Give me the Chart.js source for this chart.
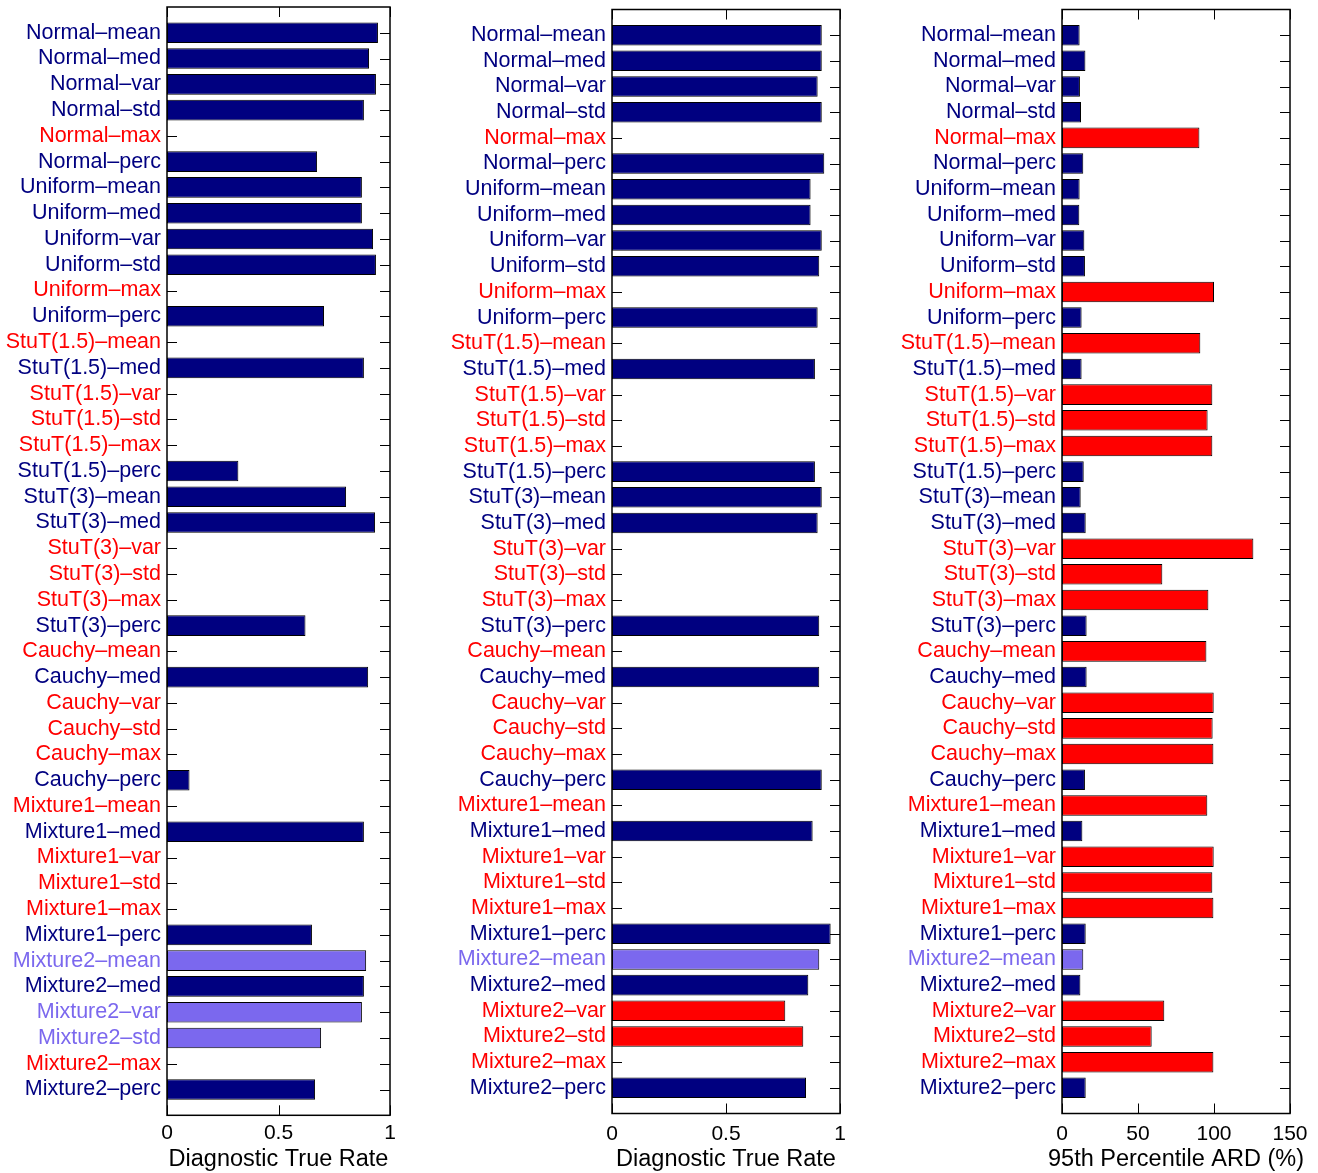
<!DOCTYPE html>
<html lang="en">
<head>
<meta charset="utf-8"/>
<title>Diagnostic True Rate / 95th Percentile ARD</title>
<script src="https://cdn.jsdelivr.net/npm/chart.js"></script>
<style>
  body { margin: 0; background: #fff; }
  #wrap { position: relative; width: 1318px; height: 1173px; }
  .panel { position: absolute; top: 0; height: 1173px; }
</style>
</head>
<body>
<div id="wrap">
  <div class="panel" style="left:0;width:400px"><canvas id="c1"></canvas></div>
  <div class="panel" style="left:440px;width:420px"><canvas id="c2"></canvas></div>
  <div class="panel" style="left:890px;width:428px"><canvas id="c3"></canvas></div>
</div>
<script>
  // row labels
  const dists = ['Normal', 'Uniform', 'StuT(1.5)', 'StuT(3)', 'Cauchy', 'Mixture1', 'Mixture2'];
  const stats = ['mean', 'med', 'var', 'std', 'max', 'perc'];
  const categories = dists.flatMap(d => stats.map(s => d + '\u2013' + s));

  // values, one per row, same order as categories
  const trueRateA = [
    0.946, 0.906, 0.937, 0.883, 0, 0.673,
    0.874, 0.874, 0.924, 0.937, 0, 0.704,
    0, 0.883, 0, 0, 0, 0.320,
    0.803, 0.933, 0, 0, 0, 0.621,
    0, 0.902, 0, 0, 0, 0.101,
    0, 0.883, 0, 0, 0, 0.650,
    0.893, 0.883, 0.874, 0.691, 0, 0.664
  ];
  const trueRateB = [
    0.920, 0.920, 0.902, 0.920, 0, 0.931,
    0.871, 0.871, 0.920, 0.909, 0, 0.902,
    0, 0.890, 0, 0, 0, 0.890,
    0.920, 0.902, 0, 0, 0, 0.909,
    0, 0.909, 0, 0, 0, 0.920,
    0, 0.880, 0, 0, 0, 0.959,
    0.909, 0.861, 0.760, 0.839, 0, 0.851
  ];
  const ard95 = [
    11.6, 15.4, 11.8, 12.5, 90.4, 14.0,
    11.6, 11.4, 14.7, 15.1, 100, 12.9,
    91.0, 12.9, 98.9, 95.8, 98.9, 14.3,
    12.3, 15.6, 125.9, 66.0, 96.3, 16.2,
    95.0, 16.2, 99.8, 99.1, 99.6, 15.1,
    95.6, 13.4, 99.8, 98.9, 99.6, 15.6,
    14.0, 12.1, 67.3, 59.0, 99.6, 15.6
  ];

  // N = navy, R = red, P = purple
  const classA = 'NNNNRN NNNNRN RNRRRN NNRRRN RNRRRN RNRRRN PNPPRN'.replace(/ /g, '');
  const classB = 'NNNNRN NNNNRN RNRRRN NNRRRN RNRRRN RNRRRN PNRRRN'.replace(/ /g, '');

  const palette = { N: '#000080', R: '#ff0000', P: '#7b68ee' };
  const FONT = '"Liberation Sans", Arial, Helvetica, sans-serif';

  // inward tick marks, box and x title (title drawn here so it is not squeezed to the axis width)
  const frame = {
    id: 'frame',
    beforeDatasetsDraw(chart) {
      const { ctx, chartArea: a, scales: { x, y } } = chart;
      ctx.save();
      ctx.strokeStyle = '#000';
      ctx.lineWidth = 1;
      ctx.beginPath();
      for (let i = 1; i < y.ticks.length - 1; i++) {
        const py = Math.round(y.getPixelForTick(i)) + 0.5;
        ctx.moveTo(a.left, py); ctx.lineTo(a.left + 10, py);
        ctx.moveTo(a.right, py); ctx.lineTo(a.right - 10, py);
      }
      x.ticks.forEach(t => {
        const px = Math.round(x.getPixelForValue(t.value)) + 0.5;
        ctx.moveTo(px, a.top); ctx.lineTo(px, a.top + 10);
        ctx.moveTo(px, a.bottom); ctx.lineTo(px, a.bottom - 10);
      });
      ctx.stroke();
      ctx.restore();
    },
    afterDatasetsDraw(chart, args, opts) {
      const { ctx, chartArea: a } = chart;
      ctx.save();
      ctx.strokeStyle = '#000';
      ctx.lineWidth = 1.5;
      ctx.strokeRect(a.left, a.top, a.right - a.left, a.bottom - a.top);
      ctx.fillStyle = '#000';
      ctx.font = '23.5px ' + FONT;
      ctx.textAlign = 'center';
      ctx.textBaseline = 'alphabetic';
      ctx.fillText(opts.title, (a.left + a.right) / 2, 1166);
      ctx.restore();
    }
  };

  function panel(id, values, cls, cfg) {
    const labels = [''].concat(categories, ['']);
    const colors = cls.split('').map(c => palette[c]);
    const data = [null].concat(values, [null]);
    const bg = ['#fff'].concat(colors, ['#fff']);

    new Chart(document.getElementById(id), {
      type: 'bar',
      data: {
        labels: labels,
        datasets: [{
          data: data,
          backgroundColor: bg,
          borderColor: '#000',
          borderWidth: 1,
          borderSkipped: false,
          categoryPercentage: 0.8,
          barPercentage: 1
        }]
      },
      options: {
        indexAxis: 'y',
        responsive: true,
        maintainAspectRatio: false,
        animation: false,
        layout: { padding: { top: cfg.top, right: cfg.right, left: 0, bottom: 0 } },
        plugins: {
          legend: { display: false },
          tooltip: { enabled: false },
          frame: { title: cfg.title }
        },
        scales: {
          y: {
            type: 'category',
            offset: false,
            grid: { display: false, drawTicks: false, tickLength: 0 },
            border: { display: false },
            ticks: {
              autoSkip: false,
              padding: 6,
              font: { family: FONT, size: 21.5 },
              color: ctx => bg[ctx.index] === '#fff' ? '#000' : bg[ctx.index]
            },
            afterFit(s) {
              s.width = cfg.yWidth;
              s.paddingTop = 0;
              s.paddingBottom = 0;
            }
          },
          x: {
            min: 0,
            max: cfg.max,
            grid: { display: false, drawTicks: false, tickLength: 0 },
            border: { display: false },
            ticks: {
              stepSize: cfg.step,
              padding: cfg.tickPad,
              maxRotation: 0,
              color: '#000',
              font: { family: FONT, size: 21 },
              callback: v => String(v)
            },
            afterFit(s) {
              s.height = cfg.xHeight;
              s.paddingLeft = 0;
              s.paddingRight = 0;
            }
          }
        }
      },
      plugins: [frame]
    });
  }

  panel('c1', trueRateA, classA, {
    top: 7, right: 10, yWidth: 167, xHeight: 57.7, tickPad: 5.5,
    max: 1, step: 0.5, title: 'Diagnostic True Rate'
  });
  panel('c2', trueRateB, classB, {
    top: 9.5, right: 20, yWidth: 172, xHeight: 59.5, tickPad: 8,
    max: 1, step: 0.5, title: 'Diagnostic True Rate'
  });
  panel('c3', ard95, classB, {
    top: 9.5, right: 28, yWidth: 172, xHeight: 59.5, tickPad: 8,
    max: 150, step: 50, title: '95th Percentile ARD (%)'
  });
</script>
</body>
</html>
